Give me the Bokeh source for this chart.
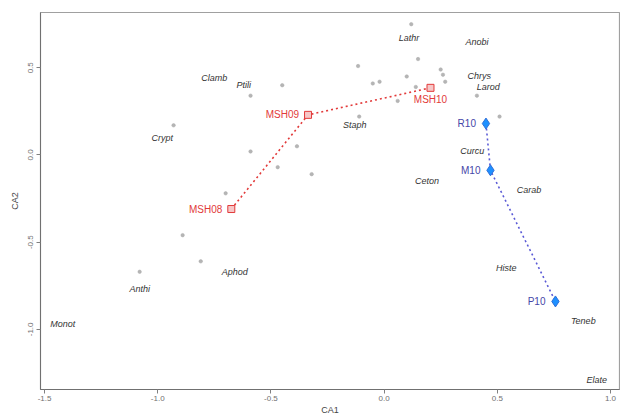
from bokeh.plotting import figure
from bokeh.models import Range1d, FixedTicker, NumeralTickFormatter, ColumnDataSource
from bokeh.core.properties import value
from bokeh.embed import file_html
from bokeh.resources import INLINE

# Labelled species scores
species = ["Lathr", "Anobi", "Chrys", "Larod", "Staph", "Curcu", "Ceton", "Carab",
           "Histe", "Teneb", "Elate", "Clamb", "Ptili", "Crypt", "Aphod", "Anthi", "Monot"]
species_x = [0.11, 0.41, 0.42, 0.46, -0.13, 0.39, 0.19, 0.64,
             0.54, 0.88, 0.94, -0.75, -0.62, -0.98, -0.66, -1.08, -1.42]
species_y = [0.67, 0.65, 0.45, 0.39, 0.17, 0.02, -0.15, -0.20,
             -0.65, -0.95, -1.29, 0.44, 0.40, 0.10, -0.67, -0.77, -0.97]

# Unlabelled species scores
other_x = [0.12, 0.15, -0.115, -0.05, -0.02, 0.10, 0.25, 0.26, 0.27, 0.14, 0.06,
           -0.45, -0.59, -0.59, -0.385, -0.47, -0.70, -0.89, -0.81, -1.08,
           -0.11, -0.32, 0.41, 0.51, -0.93]
other_y = [0.75, 0.55, 0.51, 0.41, 0.42, 0.45, 0.49, 0.46, 0.42, 0.39, 0.31,
           0.40, 0.34, 0.02, 0.05, -0.07, -0.22, -0.46, -0.61, -0.67,
           0.22, -0.11, 0.34, 0.22, 0.17]

# Site scores: MSH series
msh_sites = ["MSH08", "MSH09", "MSH10"]
msh_x = [-0.675, -0.336, 0.205]
msh_y = [-0.31, 0.23, 0.385]

# Site scores: R/M/P series
rmp_sites = ["R10", "M10", "P10"]
rmp_x = [0.45, 0.47, 0.757]
rmp_y = [0.18, -0.088, -0.84]

# Axis ticks
x_ticks = [-1.5, -1.0, -0.5, 0.0, 0.5, 1.0]
y_ticks = [-1.0, -0.5, 0.0, 0.5]

FONT = "Liberation Sans"

p = figure(width=620, height=417, output_backend="svg", toolbar_location=None,
           x_range=Range1d(-1.518, 1.04), y_range=Range1d(-1.345, 0.817),
           min_border_left=40, min_border_right=1, min_border_top=12, min_border_bottom=0,
           background_fill_color="white", border_fill_color="white")
p.xgrid.visible = False
p.ygrid.visible = False
p.outline_line_color = "#a0a0a0"
p.outline_line_width = 1.2

for ax in (p.xaxis[0], p.yaxis[0]):
    ax.axis_line_color = "#707070"
    ax.major_tick_line_color = "#808080"
    ax.minor_tick_line_color = None
    ax.major_tick_out = 4
    ax.major_tick_in = 0
    ax.major_label_text_font = FONT
    ax.major_label_text_font_size = "8px"
    ax.major_label_text_color = "#707070"
    ax.axis_label_text_font = FONT
    ax.axis_label_text_font_size = "9px"
    ax.axis_label_text_font_style = "normal"
    ax.axis_label_text_color = "#444444"
    ax.formatter = NumeralTickFormatter(format="0.0")

p.xaxis.major_label_standoff = 2
p.xaxis.axis_label_standoff = 1
p.yaxis.major_label_standoff = 3
p.yaxis.axis_label_standoff = 6

p.xaxis.ticker = FixedTicker(ticks=x_ticks)
p.yaxis.ticker = FixedTicker(ticks=y_ticks)
p.yaxis.major_label_orientation = "vertical"
p.xaxis.axis_label = "CA1"
p.yaxis.axis_label = "CA2"

# unlabelled species
p.scatter(other_x, other_y, marker="circle", size=3.5, fill_color="#b5b5b5",
          line_color="#a8a8a8", line_width=0.5)

# species names
sp_src = ColumnDataSource(dict(x=species_x, y=species_y, t=species))
p.text(x="x", y="y", text="t", source=sp_src, text_font=value(FONT),
       text_font_size="9px", text_font_style="italic", text_color="#333333",
       text_align="center", text_baseline="middle")

# MSH series
p.line(msh_x, msh_y, line_color="#e23a3a", line_width=1.6, line_dash="2 3")
p.scatter(msh_x, msh_y, marker="square", size=7, fill_color="#f6c7c7",
          line_color="#e23a3a", line_width=1)
p.text(x="x", y="y", text="t", source=ColumnDataSource(dict(x=msh_x[:2], y=msh_y[:2], t=msh_sites[:2])),
       text_font=value(FONT), text_font_size="10px", text_color="#e23a3a",
       text_align="right", text_baseline="middle", x_offset=-9)
p.text(x="x", y="y", text="t", source=ColumnDataSource(dict(x=msh_x[2:], y=msh_y[2:], t=msh_sites[2:])),
       text_font=value(FONT), text_font_size="10px", text_color="#e23a3a",
       text_align="center", text_baseline="middle", y_offset=12)

# R/M/P series
p.line(rmp_x, rmp_y, line_color="#5a5ad6", line_width=1.6, line_dash="2 3")
p.scatter(rmp_x, rmp_y, marker="diamond", size=11, fill_color="#1e90ff",
          line_color="#2f6fd8", line_width=1)
rmp_src = ColumnDataSource(dict(x=rmp_x, y=rmp_y, t=rmp_sites))
p.text(x="x", y="y", text="t", source=rmp_src, text_font=value(FONT),
       text_font_size="10px", text_color="#4646a8",
       text_align="right", text_baseline="middle", x_offset=-10)

open("out.html", "w").write(file_html(p, INLINE))
